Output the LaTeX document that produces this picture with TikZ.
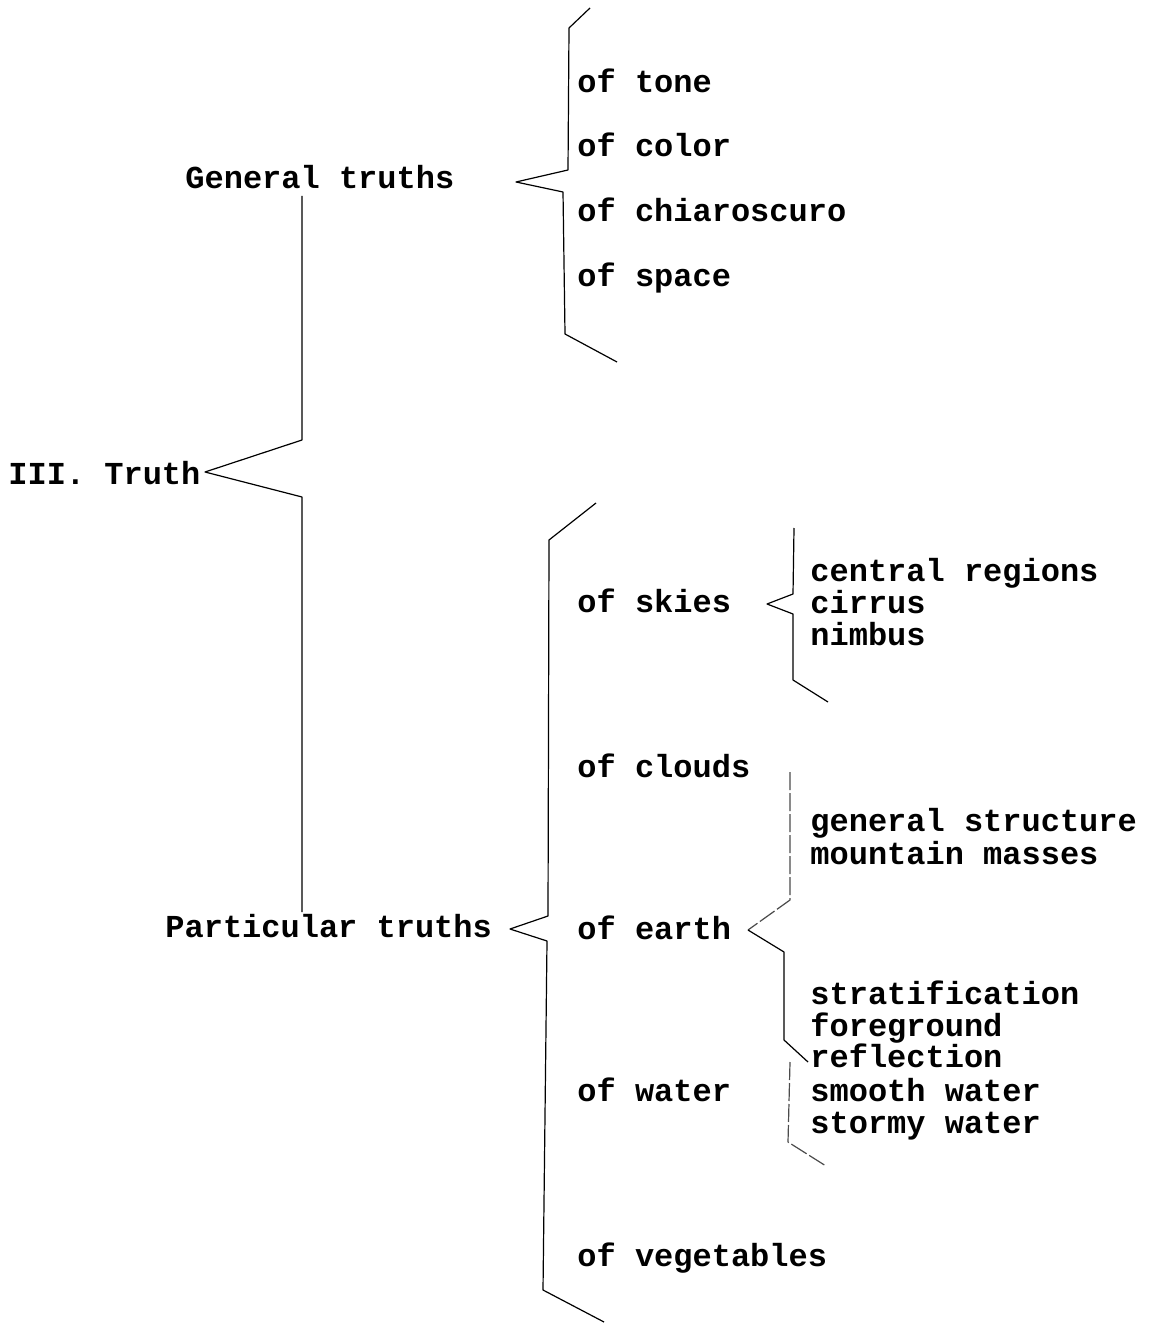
\documentclass[tikz,border=0pt]{standalone}
\usepackage{fontspec}
\setmonofont{Liberation Mono}
\usetikzlibrary{positioning}
\tikzset{
    item/.style = {anchor=base west, inner sep=0pt, font=\ttfamily\bfseries\fontsize{16}{19}\selectfont},
    brace/.style = {draw=black, line width=0.6pt, line join=round},
    fbrace/.style = {brace, draw=black!70, dash pattern=on 9pt off 1.5pt}, % faint pencil
}

\begin{document}
\begin{tikzpicture}[x=0.5pt, y=-0.5pt]
  \useasboundingbox (0,0) rectangle (1148,1326);

  % main heads
  \node[item] (truth) at (8,484) {III. Truth};
  \node[item] (gen)   at (185,189) {General truths};
  \node[item] (part)  at (165,937) {Particular truths};

  % general truths
  \node[item] (tone)  at (577,93)  {of tone};
  \node[item] (color) at (577,157) {of color};
  \node[item] (chia)  at (577,222) {of chiaroscuro};
  \node[item] (space) at (577,287) {of space};

  % particular truths
  \node[item] (skies)  at (577,612)  {of skies};
  \node[item] (clouds) at (577,777)  {of clouds};
  \node[item] (earth)  at (577,939)  {of earth};
  \node[item] (water)  at (577,1101) {of water};
  \node[item] (veg)    at (577,1266) {of vegetables};

  % third level
  \node[item] (centr)  at (810,581)  {central regions};
  \node[item] (cirrus) at (810,613)  {cirrus};
  \node[item] (nimbus) at (810,645)  {nimbus};
  \node[item] (struct) at (810,831)  {general structure};
  \node[item] (mount)  at (810,864)  {mountain masses};
  \node[item] (strat)  at (810,1004) {stratification};
  \node[item] (fore)   at (810,1036) {foreground};
  \node[item] (refl)   at (810,1067) {reflection};
  \node[item] (smooth) at (810,1101) {smooth water};
  \node[item] (storm)  at (810,1133) {stormy water};

  % bracket tips
  \coordinate (truthTip) at (205,472);
  \coordinate (genTip)   at (516,182);
  \coordinate (partTip)  at (510,929);
  \coordinate (skyTip)   at (767,604);
  \coordinate (earthTip) at (748,930);

  \draw[brace] (302,196) -- (302,440) -- (truthTip) -- (302,497) -- (302,912);
  \draw[brace] (590,8) -- (569,28) -- (568,170) -- (genTip) -- (563,192) -- (565,334) -- (617,362);
  \draw[brace] (596,503) -- (549,540) -- (548,916) -- (partTip) -- (547,941) -- (543,1290) -- (604,1322);
  \draw[brace] (794,528) -- (793,594) -- (skyTip) -- (793,614) -- (793,680) -- (828,702);
  \draw[fbrace] (790,772) -- (790,900) -- (earthTip);
  \draw[brace] (earthTip) -- (784,952) -- (784,1040) -- (808,1062);
  \draw[fbrace] (790,1062) -- (788,1142) -- (826,1166);

\end{tikzpicture}
\end{document}
